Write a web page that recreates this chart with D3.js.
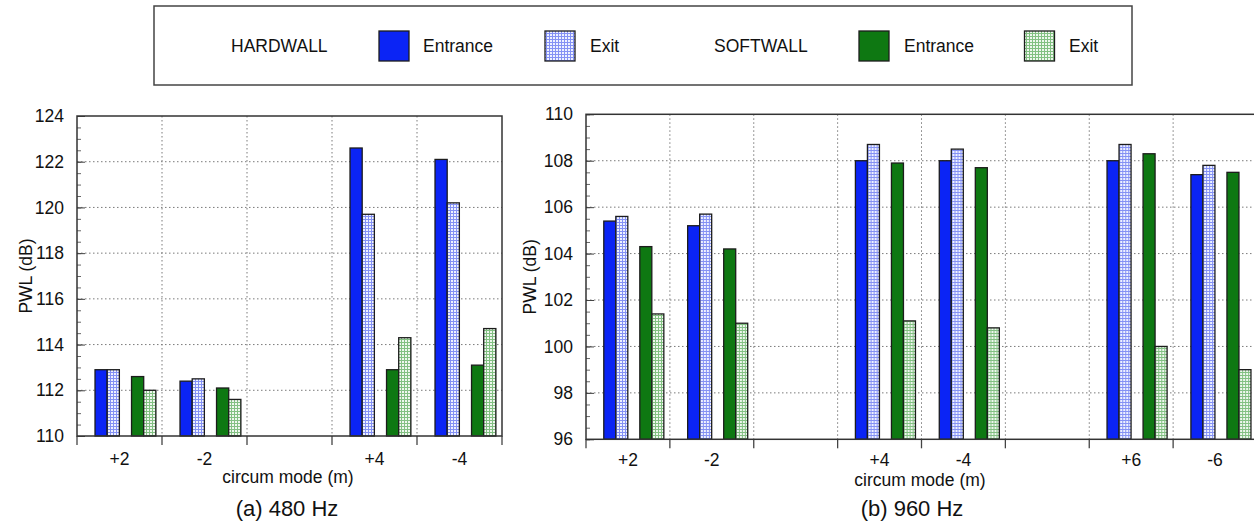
<!DOCTYPE html>
<html>
<head>
<meta charset="utf-8">
<script src="https://cdn.jsdelivr.net/npm/d3@7"></script>
<style>
  html, body { margin: 0; padding: 0; background: #fff; }
  svg { display: block; font-family: "Liberation Sans", Arial, Helvetica, sans-serif; }
</style>
</head>
<body>
<svg id="chart" width="1254" height="522"></svg>
<script>
// Circumferential modes, with empty spacer slots between mode pairs
const slots480 = ["+2", "-2", "gapA", "+4", "-4"];
const slots960 = ["+2", "-2", "gapA", "+4", "-4", "gapB", "+6", "-6"];
const modes480 = ["+2", "-2", "+4", "-4"];
const modes960 = ["+2", "-2", "+4", "-4", "+6", "-6"];

// PWL (dB) at 480 Hz
const hwEntrance480 = [112.9, 112.4, 122.6, 122.1];
const hwExit480     = [112.9, 112.5, 119.7, 120.2];
const swEntrance480 = [112.6, 112.1, 112.9, 113.1];
const swExit480     = [112.0, 111.6, 114.3, 114.7];

// PWL (dB) at 960 Hz
const hwEntrance960 = [105.4, 105.2, 108.0, 108.0, 108.0, 107.4];
const hwExit960     = [105.6, 105.7, 108.7, 108.5, 108.7, 107.8];
const swEntrance960 = [104.3, 104.2, 107.9, 107.7, 108.3, 107.5];
const swExit960     = [101.4, 101.0, 101.1, 100.8, 100.0, 99.0];

const yTicks480 = [110, 112, 114, 116, 118, 120, 122, 124];
const yTicks960 = [96, 98, 100, 102, 104, 106, 108, 110];

// Series order inside a slot; "gap" is an empty band between the two walls
const seriesKeys = ["hwE", "hwX", "gap", "swE", "swX"];
const seriesStyle = {
  hwE: "#0b24f5",
  hwX: "url(#patBlue)",
  swE: "#0e7812",
  swX: "url(#patGreen)"
};

const svg = d3.select("#chart");
const defs = svg.append("defs");

function gridPattern(id, bg, line) {
  const p = defs.append("pattern").attr("id", id)
    .attr("patternUnits", "userSpaceOnUse").attr("width", 3).attr("height", 3);
  p.append("rect").attr("width", 3).attr("height", 3).attr("fill", bg);
  p.append("rect").attr("width", 3).attr("height", 1).attr("fill", line);
  p.append("rect").attr("width", 1).attr("height", 3).attr("fill", line);
}
gridPattern("patBlue", "#eef1ff", "#8491f4");
gridPattern("patGreen", "#eef7ee", "#82c082");

const FONT = 17.5;

function drawPanel(cfg) {
  const g = svg.append("g");
  const x = d3.scaleBand().domain(cfg.slots).range([cfg.left, cfg.right]);
  const inner = d3.scaleBand().domain(seriesKeys)
    .range([x.bandwidth() * 0.212, x.bandwidth() * 0.928]);
  const y = d3.scaleLinear().domain(cfg.yDomain).range([cfg.bottom, cfg.top]);

  // boundaries between slots
  const bounds = cfg.slots.map(s => x(s)).concat([cfg.right]);

  // dotted grid
  const grid = g.append("g").attr("stroke", "#7a7a7a").attr("stroke-width", 1)
    .attr("stroke-dasharray", "1.5,2.5");
  grid.selectAll("line.v").data(bounds.slice(1, -1)).join("line")
    .attr("x1", d => d).attr("x2", d => d)
    .attr("y1", cfg.top).attr("y2", cfg.bottom);
  grid.selectAll("line.h").data(cfg.yTicks.slice(1, -1)).join("line")
    .attr("x1", cfg.left).attr("x2", cfg.right)
    .attr("y1", d => y(d)).attr("y2", d => y(d));

  // bars
  const rows = cfg.modes.map((m, i) => ({
    mode: m,
    vals: { hwE: cfg.hwE[i], hwX: cfg.hwX[i], swE: cfg.swE[i], swX: cfg.swX[i] }
  }));
  const groups = g.selectAll("g.mode").data(rows).join("g")
    .attr("transform", d => `translate(${x(d.mode)},0)`);
  groups.selectAll("rect")
    .data(d => ["hwE", "hwX", "swE", "swX"].map(k => ({ k, v: d.vals[k] })))
    .join("rect")
    .attr("x", d => inner(d.k))
    .attr("width", inner.bandwidth())
    .attr("y", d => y(d.v))
    .attr("height", d => cfg.bottom - y(d.v))
    .attr("fill", d => seriesStyle[d.k])
    .attr("stroke", "#1c1c1c").attr("stroke-width", 1.3);

  // y axis: labels outside, major/minor ticks inside
  const yLab = g.append("g").attr("transform", `translate(${cfg.left},0)`)
    .call(d3.axisLeft(y).tickValues(cfg.yTicks).tickSize(0).tickPadding(13));
  yLab.select(".domain").remove();
  yLab.selectAll("text").attr("font-size", FONT).attr("font-family", null).attr("fill", "#111");

  const minor = d3.range(cfg.yDomain[0], cfg.yDomain[1] + 0.01, 0.5);
  const yTk = g.append("g").attr("transform", `translate(${cfg.left},0)`)
    .call(d3.axisRight(y).tickValues(minor).tickSize(4).tickFormat(""));
  yTk.select(".domain").remove();
  yTk.selectAll("line").attr("stroke", "#666");
  const yMaj = g.append("g").attr("transform", `translate(${cfg.left},0)`)
    .call(d3.axisRight(y).tickValues(cfg.yTicks).tickSize(8).tickFormat(""));
  yMaj.select(".domain").remove();
  yMaj.selectAll("line").attr("stroke", "#444");

  // x axis: labels centred in slots, ticks at slot boundaries
  const xLab = g.append("g").attr("transform", `translate(0,${cfg.bottom})`)
    .call(d3.axisBottom(x).tickSize(0).tickPadding(cfg.xPad)
      .tickFormat(d => cfg.modes.includes(d) ? d : ""));
  xLab.select(".domain").remove();
  xLab.selectAll("text").attr("font-size", FONT).attr("font-family", null).attr("fill", "#111");
  g.append("g").selectAll("line").data(bounds).join("line")
    .attr("x1", d => d).attr("x2", d => d)
    .attr("y1", cfg.bottom).attr("y2", cfg.bottom + 9)
    .attr("stroke", "#444").attr("stroke-width", 1.3);

  // frame
  g.append("rect")
    .attr("x", cfg.left).attr("y", cfg.top)
    .attr("width", cfg.right - cfg.left).attr("height", cfg.bottom - cfg.top)
    .attr("fill", "none").attr("stroke", "#333").attr("stroke-width", 1.5);

  // axis titles
  g.append("text")
    .attr("transform", `translate(${cfg.yTitleX},${(cfg.top + cfg.bottom) / 2}) rotate(-90)`)
    .attr("text-anchor", "middle").attr("dominant-baseline", "central")
    .attr("font-size", FONT).attr("fill", "#111").text("PWL (dB)");
  g.append("text")
    .attr("x", cfg.xTitleX).attr("y", cfg.xTitleY)
    .attr("text-anchor", "middle").attr("dominant-baseline", "central")
    .attr("font-size", FONT).attr("fill", "#111").text("circum mode (m)");
  g.append("text")
    .attr("x", cfg.captionX).attr("y", 508)
    .attr("text-anchor", "middle").attr("dominant-baseline", "central")
    .attr("font-size", 22).attr("fill", "#111").text(cfg.caption);
}

drawPanel({
  slots: slots480, modes: modes480,
  hwE: hwEntrance480, hwX: hwExit480, swE: swEntrance480, swX: swExit480,
  yDomain: [110, 124], yTicks: yTicks480,
  left: 77, right: 502, top: 116, bottom: 436,
  xPad: 17, yTitleX: 26, xTitleX: 288, xTitleY: 477,
  captionX: 287, caption: "(a) 480 Hz"
});

drawPanel({
  slots: slots960, modes: modes960,
  hwE: hwEntrance960, hwX: hwExit960, swE: swEntrance960, swX: swExit960,
  yDomain: [96, 110], yTicks: yTicks960,
  left: 586, right: 1257, top: 114.3, bottom: 439.3,
  xPad: 14, yTitleX: 530, xTitleX: 920, xTitleY: 479.5,
  captionX: 912, caption: "(b) 960 Hz"
});

// legend
const legend = svg.append("g");
legend.append("rect")
  .attr("x", 154).attr("y", 6).attr("width", 978).attr("height", 79)
  .attr("fill", "#fff").attr("stroke", "#444").attr("stroke-width", 1.5);

const legendTitles = [
  { text: "HARDWALL", x: 231 },
  { text: "SOFTWALL", x: 714 }
];
const legendItems = [
  { key: "hwE", label: "Entrance", sx: 379, tx: 423 },
  { key: "hwX", label: "Exit", sx: 545, tx: 590 },
  { key: "swE", label: "Entrance", sx: 859, tx: 904 },
  { key: "swX", label: "Exit", sx: 1024.5, tx: 1069 }
];
legend.selectAll("text.title").data(legendTitles).join("text")
  .attr("x", d => d.x).attr("y", 46)
  .attr("dominant-baseline", "central")
  .attr("font-size", 17.5).attr("fill", "#111").text(d => d.text);
legend.selectAll("rect.sw").data(legendItems).join("rect")
  .attr("x", d => d.sx).attr("y", 31).attr("width", 30).attr("height", 30)
  .attr("fill", d => seriesStyle[d.key])
  .attr("stroke", "#1c1c1c").attr("stroke-width", 1.3);
legend.selectAll("text.item").data(legendItems).join("text")
  .attr("x", d => d.tx).attr("y", 46)
  .attr("dominant-baseline", "central")
  .attr("font-size", 17.5).attr("fill", "#111").text(d => d.label);
</script>
</body>
</html>
